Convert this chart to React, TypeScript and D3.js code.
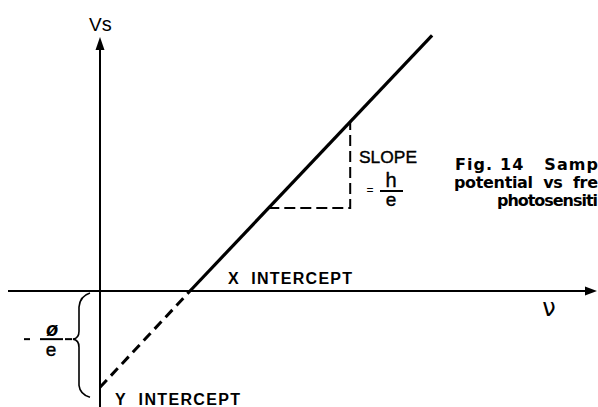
import React from "react";
import * as d3 from "d3";

// Values (frequency units where threshold ν0 = 1)
const solidNu = [1.0, 3.69];
const solidVs = [0.0, 2.84];
const dashNu = [0.0, 1.0];
const dashVs = [-1.07, 0.0];
const triNu = [1.87, 2.78, 2.78];
const triVs = [0.922, 0.922, 1.88];
const captionLines = ["Fig.\u00a014\u00a0\u00a0\u00a0Samp", "potential\u00a0\u00a0vs\u00a0\u00a0fre", "photosensiti"];

const W = 598;
const H = 407;

export default function App() {
  const x = d3.scaleLinear().domain([0, 1]).range([100, 190]);
  const y = d3.scaleLinear().domain([0, 1]).range([291, 201]);
  const line = d3
    .line<[number, number]>()
    .x((d) => x(d[0]))
    .y((d) => y(d[1]));
  const solid = solidNu.map((n, i) => [n, solidVs[i]] as [number, number]);
  const dash = dashNu.map((n, i) => [n, dashVs[i]] as [number, number]);
  const tri = triNu.map((n, i) => [n, triVs[i]] as [number, number]);
  const font = "'Liberation Sans', Arial, sans-serif";
  const bold = "'DejaVu Sans', sans-serif";
  const x0 = x(0);
  const y0 = y(0);
  const yInt = y(dashVs[0]);
  const mid = (y0 + yInt) / 2;
  return (
    <svg
      width={W}
      height={H}
      style={{ position: "absolute", left: 0, top: 0, background: "#fff" }}
      fontFamily={font}
    >
      <rect width={W} height={H} fill="#fff" />
      {/* axes */}
      <line x1={8} y1={y0} x2={588} y2={y0} stroke="#000" strokeWidth={2} />
      <path d={`M597,${y0} L585,${y0 - 4.5} L585,${y0 + 4.5} Z`} fill="#000" />
      <line x1={x0} y1={H} x2={x0} y2={48} stroke="#000" strokeWidth={2} />
      <path d={`M${x0},37 L${x0 - 4.5},50 L${x0 + 4.5},50 Z`} fill="#000" />
      {/* main line */}
      <path d={line(solid) || ""} stroke="#000" strokeWidth={3.2} fill="none" />
      <path d={line(dash) || ""} stroke="#000" strokeWidth={3} fill="none" strokeDasharray="10,6" />
      {/* slope triangle */}
      <path d={line(tri) || ""} stroke="#000" strokeWidth={2} fill="none" strokeDasharray="11,5" />
      {/* labels */}
      <text x={89} y={31} fontSize={19}>
        V<tspan fontSize={20}>s</tspan>
      </text>
      <text x={549} y={316} fontSize={24} textAnchor="middle" fontFamily={bold}>
        ν
      </text>
      <text x={228} y={284} fontSize={16} fontWeight="bold" textLength={124} lengthAdjust="spacing">
        {"X\u00a0\u00a0INTERCEPT"}
      </text>
      <text x={115} y={405} fontSize={16} fontWeight="bold" textLength={125} lengthAdjust="spacing">
        {"Y\u00a0\u00a0INTERCEPT"}
      </text>
      <text
        x={359}
        y={163}
        fontSize={17}
        textLength={58}
        lengthAdjust="spacingAndGlyphs"
        stroke="#000"
        strokeWidth={0.4}
      >
        SLOPE
      </text>
      <text x={370} y={194} fontSize={12} textAnchor="middle">
        =
      </text>
      <text x={391} y={187} fontSize={20} textAnchor="middle" stroke="#000" strokeWidth={0.4}>
        h
      </text>
      <line x1={380} y1={191} x2={403} y2={191} stroke="#000" strokeWidth={2} />
      <text x={391} y={206} fontSize={19} textAnchor="middle" stroke="#000" strokeWidth={0.4}>
        e
      </text>
      {/* -phi/e */}
      <line x1={24} y1={mid} x2={30} y2={mid} stroke="#000" strokeWidth={2} />
      <text x={52} y={336} fontSize={20} textAnchor="middle" fontStyle="italic" fontWeight="bold">
        ø
      </text>
      <line x1={40} y1={mid} x2={63} y2={mid} stroke="#000" strokeWidth={2} />
      <text x={51} y={356} fontSize={19} textAnchor="middle" stroke="#000" strokeWidth={0.4}>
        e
      </text>
      <line x1={65} y1={mid} x2={72} y2={mid} stroke="#000" strokeWidth={2} />
      {/* brace */}
      <path
        d={`M90,${y0 + 2} Q80,${y0 + 5} 79,${y0 + 16} L79,${mid - 8} Q79,${mid - 1} 73,${mid} Q79,${mid + 1} 79,${mid + 8} L79,${yInt - 2} Q80,${yInt + 7} 90,${yInt + 10}`}
        stroke="#000"
        strokeWidth={1.6}
        fill="none"
      />
      {/* caption (cut off at the right edge, as in the reference) */}
      <text x={455} y={170} fontSize={16} fontWeight="bold" fontFamily={bold} textLength={143} lengthAdjust="spacing">
        {captionLines[0]}
      </text>
      <text x={454} y={188} fontSize={16} fontWeight="bold" fontFamily={bold} textLength={144} lengthAdjust="spacing">
        {captionLines[1]}
      </text>
      <text x={497} y={206} fontSize={16} fontWeight="bold" fontFamily={bold} textLength={101} lengthAdjust="spacing">
        {captionLines[2]}
      </text>
    </svg>
  );
}
